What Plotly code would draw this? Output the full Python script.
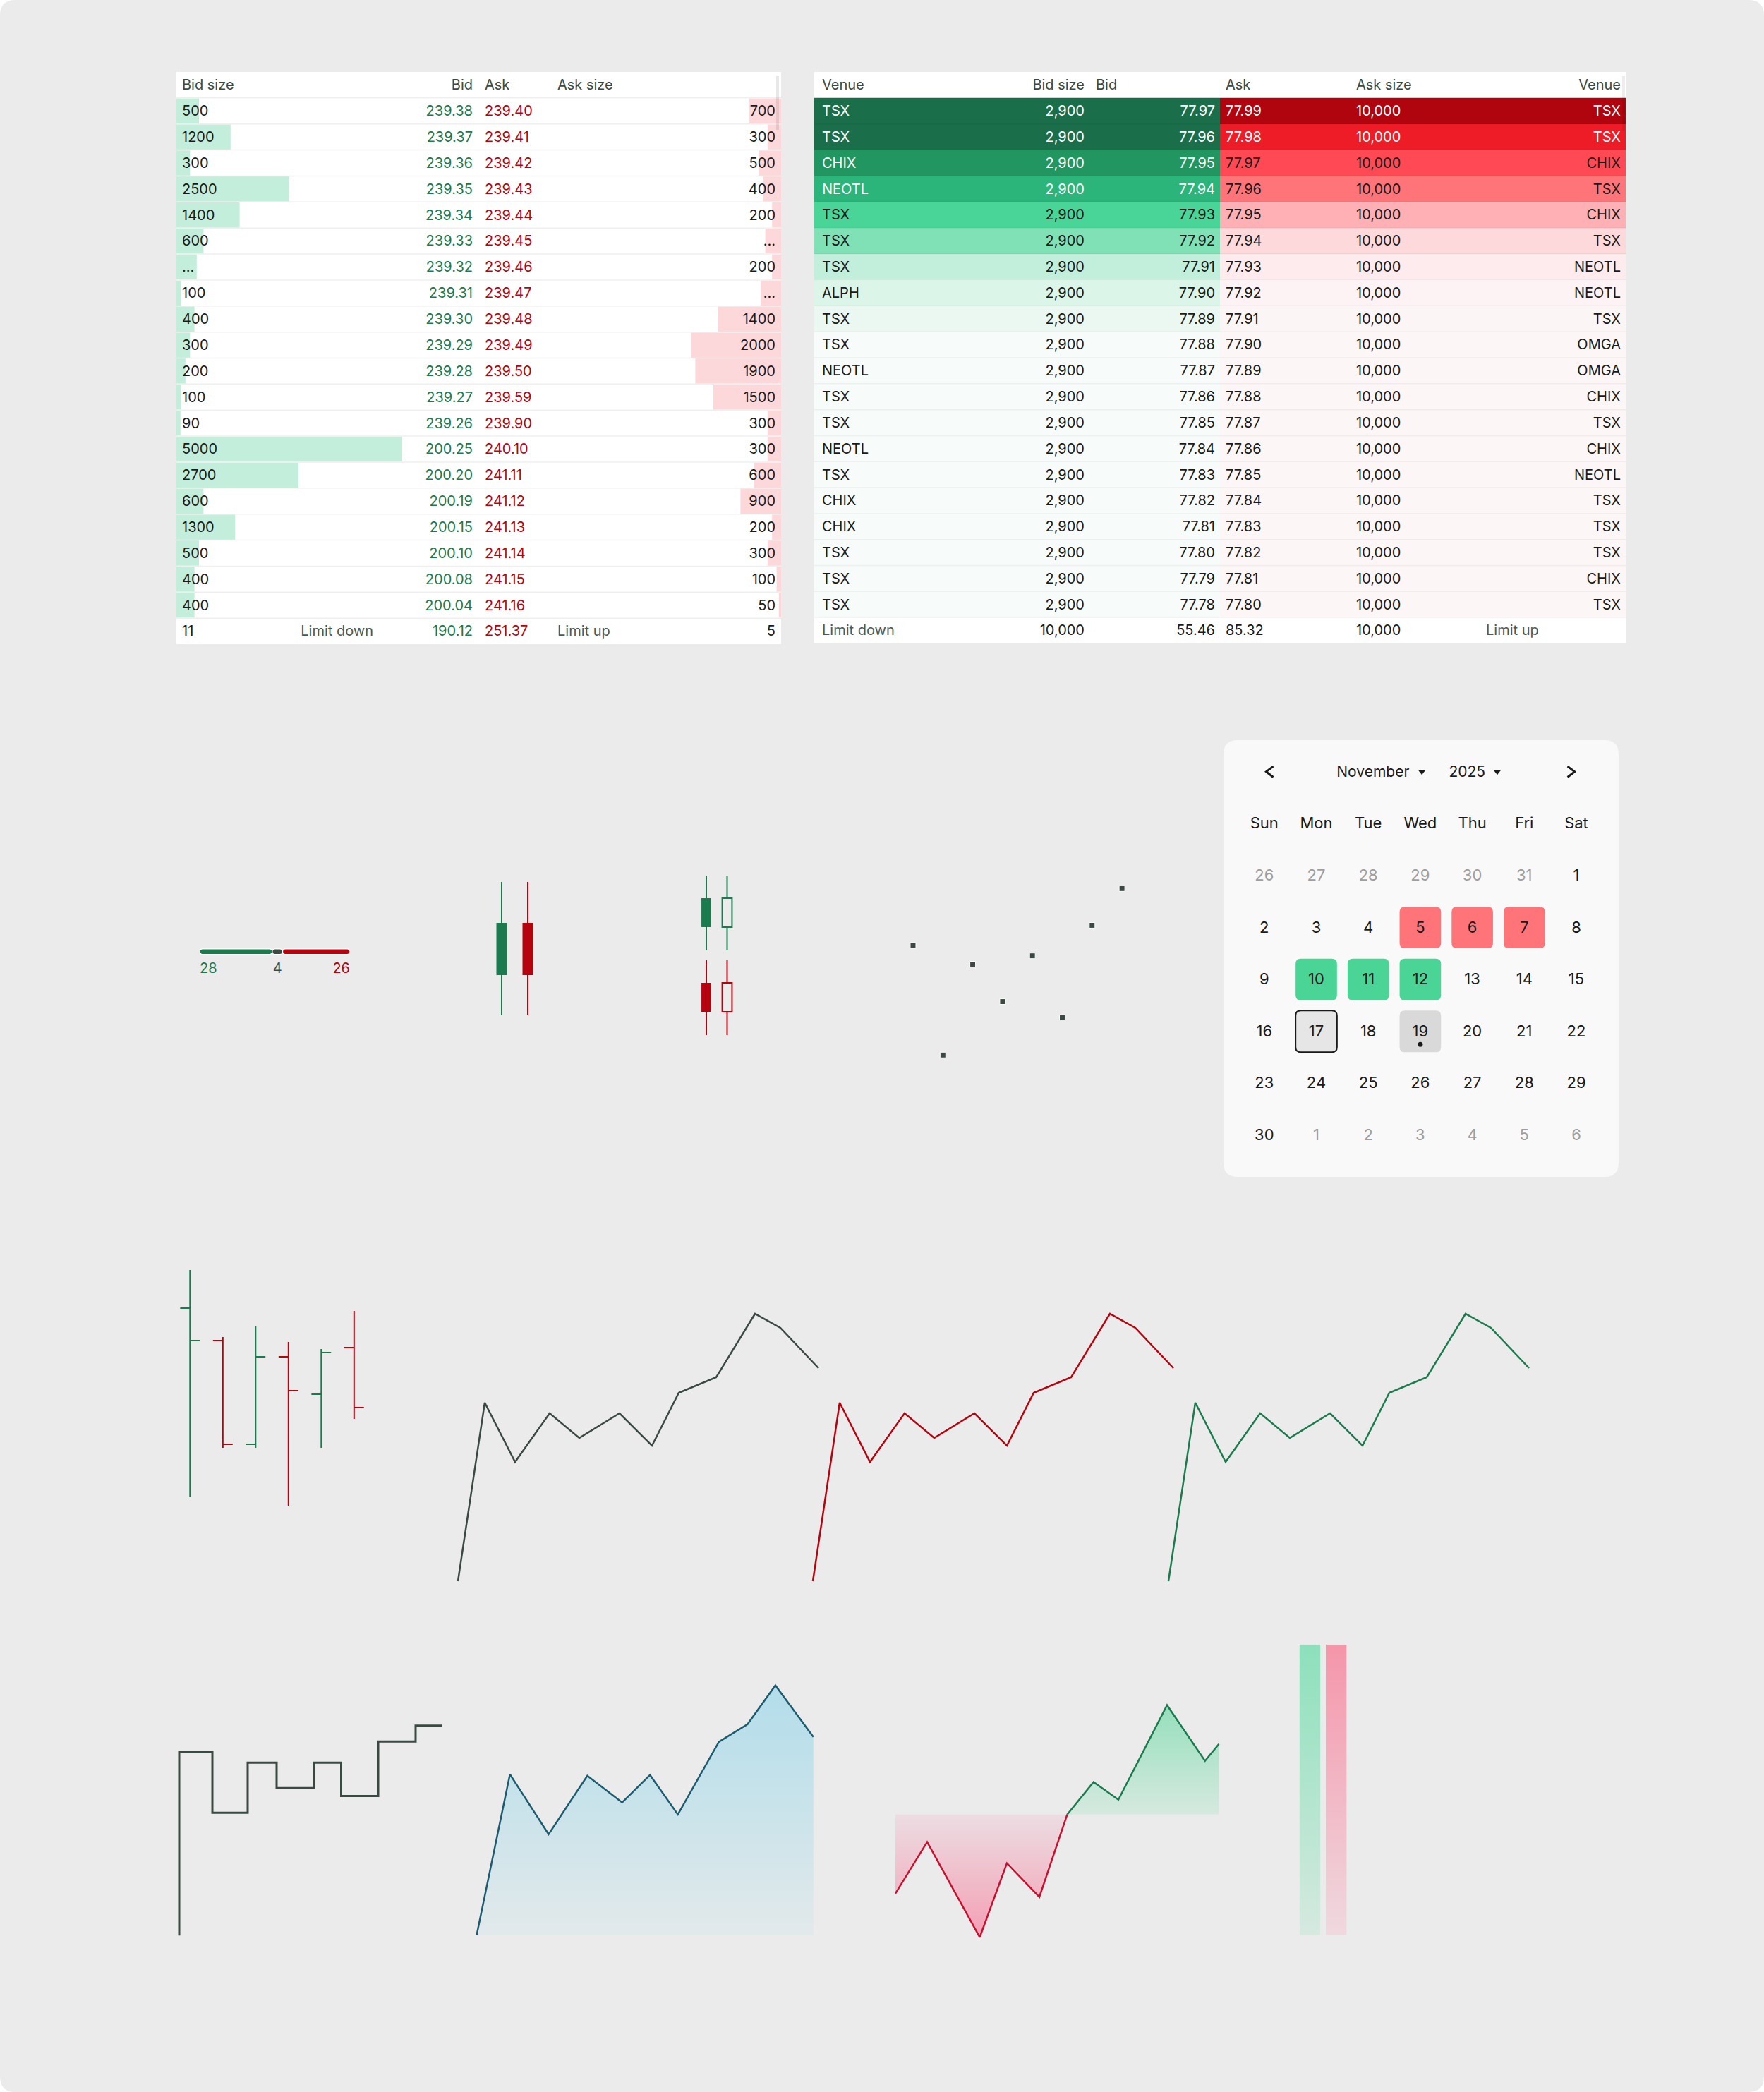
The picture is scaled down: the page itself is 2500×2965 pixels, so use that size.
import datetime as dt
import numpy as np
import plotly.graph_objects as go

W, H = 2500, 2965
FONT = "Inter, 'Noto Sans', sans-serif"
GREEN = "#1b7a4e"
RED = "#b5040f"
INK = "#3a4a42"
TEXT = "#1a1a1a"
MUTED = "#4a5a52"
BG = "#ebebeb"

# ---- order book (left table)
book_bid_size = [500, 1200, 300, 2500, 1400, 600, 450, 100, 400, 300,
                 200, 100, 90, 5000, 2700, 600, 1300, 500, 400, 400]
book_bid_hidden = [6]
book_bid = [239.38, 239.37, 239.36, 239.35, 239.34, 239.33, 239.32, 239.31, 239.30, 239.29,
            239.28, 239.27, 239.26, 200.25, 200.20, 200.19, 200.15, 200.10, 200.08, 200.04]
book_ask = [239.40, 239.41, 239.42, 239.43, 239.44, 239.45, 239.46, 239.47, 239.48, 239.49,
            239.50, 239.59, 239.90, 240.10, 241.11, 241.12, 241.13, 241.14, 241.15, 241.16]
book_ask_size = [700, 300, 500, 400, 200, 350, 200, 450, 1400, 2000,
                 1900, 1500, 300, 300, 600, 900, 200, 300, 100, 50]
book_ask_hidden = [5, 7]
book_limit_down_size = 11
book_limit_down = 190.12
book_limit_up = 251.37
book_limit_up_size = 5

# ---- montage (right table)
mont_bid_venue = ["TSX", "TSX", "CHIX", "NEOTL", "TSX", "TSX", "TSX", "ALPH", "TSX", "TSX",
                  "NEOTL", "TSX", "TSX", "NEOTL", "TSX", "CHIX", "CHIX", "TSX", "TSX", "TSX"]
mont_bid_size = [2900] * 20
mont_bid = [77.97, 77.96, 77.95, 77.94, 77.93, 77.92, 77.91, 77.90, 77.89, 77.88,
            77.87, 77.86, 77.85, 77.84, 77.83, 77.82, 77.81, 77.80, 77.79, 77.78]
mont_ask = [77.99, 77.98, 77.97, 77.96, 77.95, 77.94, 77.93, 77.92, 77.91, 77.90,
            77.89, 77.88, 77.87, 77.86, 77.85, 77.84, 77.83, 77.82, 77.81, 77.80]
mont_ask_size = [10000] * 20
mont_ask_venue = ["TSX", "TSX", "CHIX", "TSX", "CHIX", "TSX", "NEOTL", "NEOTL", "TSX", "OMGA",
                  "OMGA", "CHIX", "TSX", "CHIX", "NEOTL", "TSX", "TSX", "TSX", "CHIX", "TSX"]
mont_limit_down_size = 10000
mont_limit_down = 55.46
mont_limit_up = 85.32
mont_limit_up_size = 10000
bid_shades = ["#1a6e4a", "#1a6e4a", "#219660", "#2bb57a", "#49d597",
              "#80e1b6", "#c1efdb", "#dbf5e9", "#eaf8f1", "#f7fbf9"]
ask_shades = ["#b0040f", "#ed1c27", "#ff4a55", "#ff7479", "#feb0b4",
              "#fdd9dc", "#fdebed", "#fdf3f4", "#fcf5f5", "#fcf6f6"]

# ---- small widgets
ratio_values = [28, 4, 26]
candle_open = [6.8, 14.2]
candle_high = [20.0, 20.0]
candle_low = [1.1, 1.1]
candle_close = [14.2, 6.8]
mini_x = [0, 1, 0, 1]
mini_open = [15.6, 15.6, 7.7, 7.7]
mini_high = [22.9, 22.9, 10.9, 10.9]
mini_low = [12.3, 12.3, 0.3, 0.3]
mini_close = [19.7, 19.7, 3.6, 3.6]
mini_hollow = [False, True, False, True]
dot_values = [15.8, 0.0, 13.1, 7.7, 14.3, 5.4, 18.7, 24.0]

cal_year, cal_month = 2025, 11
cal_red = [5, 6, 7]
cal_green = [10, 11, 12]
cal_today = 17
cal_selected = 19
weekdays = ["Sun", "Mon", "Tue", "Wed", "Thu", "Fri", "Sat"]

ohlc_open = [28.6, 24.0, 9.3, 21.7, 16.4, 23.0]
ohlc_high = [34.0, 24.5, 26.0, 23.8, 22.8, 28.2]
ohlc_low = [1.8, 8.8, 8.8, 0.6, 8.8, 12.9]
ohlc_close = [24.0, 9.3, 21.7, 16.9, 22.3, 14.5]

line_t = [0, 38, 81, 130, 172, 229, 275, 313, 366, 421, 457, 511]
line_values = [0.9, 26.2, 17.8, 24.7, 21.2, 24.7, 20.1, 27.6, 29.8, 38.8, 36.8, 31.1]
step_t = [0, 47, 97, 138, 191, 229.5, 282, 335, 373]
area_t = [0, 47.2, 102, 156.9, 206.2, 245.7, 285.2, 343.4, 383.9, 423.4, 477.2]
area_values = [0.0, 22.8, 14.3, 22.6, 18.8, 22.7, 17.1, 27.4, 29.9, 35.4, 28.1]
base_t = [0, 45, 119.5, 158, 204, 243.5, 280.8, 316, 385, 438.8, 458.5]
base_values = [-11.2, -3.9, -17.4, -6.9, -11.7, 0.0, 4.6, 2.1, 15.5, 7.6, 10.0]
flow_values = [100, 100]


def dx(a, b):
    return [a / W, b / W]


def dy(top, bottom):
    return [1 - bottom / H, 1 - top / H]


layout_axes = {}


def axes(n, xdom, ydom, xr, yr):
    xs = "xaxis" if n == 1 else f"xaxis{n}"
    ys = "yaxis" if n == 1 else f"yaxis{n}"
    layout_axes[xs] = dict(domain=xdom, range=xr, visible=False, fixedrange=True,
                           anchor="y" if n == 1 else f"y{n}")
    layout_axes[ys] = dict(domain=ydom, range=yr, visible=False, fixedrange=True,
                           anchor="x" if n == 1 else f"x{n}")
    return ("x" if n == 1 else f"x{n}"), ("y" if n == 1 else f"y{n}")


fig = go.Figure()


def text_col(xa, ya, xs, ys, texts, colors, pos, size=20):
    fig.add_trace(go.Scatter(
        x=xs, y=ys, mode="text", text=texts, textposition=pos,
        textfont=dict(family=FONT, size=size, color=colors),
        xaxis=xa, yaxis=ya, hoverinfo="skip", showlegend=False, cliponaxis=False))


def rr_path(x0, y0, x1, y1, rx, ry):
    return (f"M {x0 + rx},{y0} L {x1 - rx},{y0} Q {x1},{y0} {x1},{y0 + ry} "
            f"L {x1},{y1 - ry} Q {x1},{y1} {x1 - rx},{y1} L {x0 + rx},{y1} "
            f"Q {x0},{y1} {x0},{y1 - ry} L {x0},{y0 + ry} Q {x0},{y0} {x0 + rx},{y0} Z")


def rr_paper(x0, y0, x1, y1, r):
    return rr_path(x0 / W, 1 - y0 / H, x1 / W, 1 - y1 / H, r / W, -r / H)


shapes = [dict(type="path", xref="paper", yref="paper", layer="below",
               path=rr_paper(0, 0, W, H, 22), fillcolor=BG, line_width=0)]

# text sits a touch low in the reference rows
TY = 0.05

# =============== left table: order book ===============
T1 = (250, 102, 1107, 913)
t1w = T1[2] - T1[0]
scale = 0.064
rows = np.arange(1, 21)
bx, by = axes(1, dx(T1[0], T1[2]), dy(T1[1], T1[3]), [0, t1w / scale], [21.5, -0.5])
layout_axes["xaxis2"] = dict(overlaying="x", anchor="y", range=[t1w / scale, 0], visible=False, fixedrange=True)
layout_axes["xaxis3"] = dict(overlaying="x", anchor="y", range=[0, t1w], visible=False, fixedrange=True)
shapes.append(dict(type="rect", xref="paper", yref="paper", layer="below",
                   x0=T1[0] / W, x1=T1[2] / W, y0=1 - T1[3] / H, y1=1 - T1[1] / H,
                   fillcolor="white", line_width=0))
fig.add_trace(go.Bar(x=book_bid_size, y=rows, orientation="h", width=0.97,
                     marker=dict(color="#c2eedb", line_width=0), xaxis="x", yaxis="y",
                     hoverinfo="skip", showlegend=False))
fig.add_trace(go.Bar(x=book_ask_size, y=rows, orientation="h", width=0.97,
                     marker=dict(color="#fdd8db", line_width=0), xaxis="x2", yaxis="y",
                     hoverinfo="skip", showlegend=False))

ally = [r + TY for r in range(22)]
body_y = [r + TY for r in range(1, 22)]
bid_lbl = ["…" if i in book_bid_hidden else str(v) for i, v in enumerate(book_bid_size)]
ask_lbl = ["…" if i in book_ask_hidden else str(v) for i, v in enumerate(book_ask_size)]
text_col("x3", "y", [8] * 22, ally, ["Bid size"] + bid_lbl + [str(book_limit_down_size)],
         [INK] + [TEXT] * 21, "middle right")
text_col("x3", "y", [279], [21 + TY], ["Limit down"], [MUTED], "middle left")
text_col("x3", "y", [420] * 22, ally, ["Bid"] + [f"{v:.2f}" for v in book_bid] + [f"{book_limit_down:.2f}"],
         [INK] + [GREEN] * 21, "middle left")
text_col("x3", "y", [437] * 22, ally, ["Ask"] + [f"{v:.2f}" for v in book_ask] + [f"{book_limit_up:.2f}"],
         [INK] + [RED] * 21, "middle right")
text_col("x3", "y", [540, 540], [TY, 21 + TY], ["Ask size", "Limit up"], [INK, MUTED], "middle right")
text_col("x3", "y", [849] * 21, body_y, ask_lbl + [str(book_limit_up_size)],
         [TEXT] * 21, "middle left")
for k in range(21):
    shapes.append(dict(type="line", xref="x3", yref="y", x0=0, x1=t1w, y0=k + 0.5, y1=k + 0.5,
                       line=dict(color="#efefef", width=1.5), layer="above"))
shapes.append(dict(type="line", xref="paper", yref="paper", x0=1102 / W, x1=1102 / W,
                   y0=1 - 184 / H, y1=1 - 108 / H, line=dict(color="rgba(0,0,0,0.09)", width=4)))

# =============== right table: montage ===============
T2 = (1154, 102, 2304, 912)
t2w = T2[2] - T2[0]
mx, my = axes(4, dx(T2[0], T2[2]), dy(T2[1], T2[3]), [0, t2w], [21.5, -0.5])
shapes.append(dict(type="rect", xref="paper", yref="paper", layer="below",
                   x0=T2[0] / W, x1=T2[2] / W, y0=1 - T2[3] / H, y1=1 - T2[1] / H,
                   fillcolor="white", line_width=0))
level = np.minimum(np.arange(20), len(bid_shades) - 1).reshape(-1, 1)
edges = np.arange(0.5, 21, 1.0)
half = t2w / 2
for xs_, shades in (([0, half], bid_shades), ([half, t2w], ask_shades)):
    fig.add_trace(go.Heatmap(z=level, x=xs_, y=edges, zmin=0, zmax=len(shades) - 1,
                             colorscale=[[k / (len(shades) - 1), c] for k, c in enumerate(shades)],
                             showscale=False, hoverinfo="skip", xaxis=mx, yaxis=my))
bid_txt = ["white" if i < 4 else TEXT for i in range(20)]
ask_txt = ["white" if i < 2 else TEXT for i in range(20)]
text_col(mx, my, [11] * 22, ally, ["Venue"] + mont_bid_venue + ["Limit down"],
         [INK] + bid_txt + [MUTED], "middle right")
text_col(mx, my, [383] * 22, ally, ["Bid size"] + [f"{v:,}" for v in mont_bid_size] + [f"{mont_limit_down_size:,}"],
         [INK] + bid_txt + [TEXT], "middle left")
text_col(mx, my, [399], [TY], ["Bid"], [INK], "middle right")
text_col(mx, my, [568] * 21, body_y, [f"{v:.2f}" for v in mont_bid] + [f"{mont_limit_down:.2f}"],
         bid_txt + [TEXT], "middle left")
text_col(mx, my, [583] * 22, ally, ["Ask"] + [f"{v:.2f}" for v in mont_ask] + [f"{mont_limit_up:.2f}"],
         [INK] + ask_txt + [TEXT], "middle right")
text_col(mx, my, [768] * 22, ally, ["Ask size"] + [f"{v:,}" for v in mont_ask_size] + [f"{mont_limit_up_size:,}"],
         [INK] + ask_txt + [TEXT], "middle right")
text_col(mx, my, [t2w - 7] * 21, ally[:21], ["Venue"] + mont_ask_venue,
         [INK] + ask_txt, "middle left")
text_col(mx, my, [952], [21 + TY], ["Limit up"], [MUTED], "middle right")
for k in range(21):
    shapes.append(dict(type="line", xref=mx, yref=my, x0=0, x1=t2w, y0=k + 0.5, y1=k + 0.5,
                       line=dict(color="rgba(0,0,0,0.045)", width=1.5), layer="above"))
shapes.append(dict(type="line", xref="paper", yref="paper", x0=2301 / W, x1=2301 / W,
                   y0=1 - 185 / H, y1=1 - 108 / H, line=dict(color="rgba(0,0,0,0.07)", width=4)))

# =============== ratio pill ===============
px_, py_ = axes(5, dx(283, 496), dy(1335, 1390), [0, sum(ratio_values)], [-1.5, 0.5])
ends = np.cumsum(ratio_values)
starts = ends - np.array(ratio_values)
pill_colors = [GREEN, INK, RED]
pill_specs = [(ends[0], -ratio_values[0]), (starts[1], ratio_values[1]), (starts[2], ratio_values[2])]
for (b, v), c in zip(pill_specs, pill_colors):
    fig.add_trace(go.Bar(x=[v], base=[b], y=[0], orientation="h", width=0.28,
                         marker=dict(color=c, cornerradius=4, line=dict(color="white", width=1.2)),
                         xaxis=px_, yaxis=py_, hoverinfo="skip", showlegend=False))
text_col(px_, py_, [starts[0], (starts[1] + ends[1]) / 2, ends[2]], [-0.9] * 3,
         [str(v) for v in ratio_values], pill_colors, ["middle right", "middle center", "middle left"])


# =============== candles ===============
def candles(xs, o, h, l, c, hollow, xa, ya, width):
    cols = [GREEN if cc >= oo else RED for oo, cc in zip(o, c)]
    for col in (GREEN, RED):
        wx, wy = [], []
        for i in range(len(xs)):
            if cols[i] != col:
                continue
            top, bot = max(o[i], c[i]), min(o[i], c[i])
            wx += [xs[i], xs[i], None, xs[i], xs[i], None]
            wy += [h[i], top, None, bot, l[i], None]
        if wx:
            fig.add_trace(go.Scatter(x=wx, y=wy, mode="lines", line=dict(color=col, width=2),
                                     xaxis=xa, yaxis=ya, hoverinfo="skip", showlegend=False))
    fig.add_trace(go.Bar(
        x=xs, y=[abs(cc - oo) for oo, cc in zip(o, c)], base=[min(oo, cc) for oo, cc in zip(o, c)],
        width=width,
        marker=dict(color=[BG if hh else col for hh, col in zip(hollow, cols)],
                    line=dict(color=cols, width=[2 if hh else 0 for hh in hollow])),
        xaxis=xa, yaxis=ya, hoverinfo="skip", showlegend=False))


cx, cy = axes(6, dx(690.65, 768.35), dy(1240, 1450), [-0.55, 1.55], [0, 21])
candles([0, 1], candle_open, candle_high, candle_low, candle_close, [False, False], cx, cy, 0.405)
sx, sy = axes(7, dx(983.3, 1048.2), dy(1236, 1470), [-0.6, 1.6], [0, 23.4])
candles(mini_x, mini_open, mini_high, mini_low, mini_close, mini_hollow, sx, sy, 0.47)

# =============== dots ===============
ox, oy = axes(8, dx(1272.85, 1611.25), dy(1249.5, 1505.1), [-0.5, 7.5], [-1, 25])
fig.add_trace(go.Scatter(x=list(range(len(dot_values))), y=dot_values, mode="markers",
                         marker=dict(symbol="square", size=8, color=INK, line=dict(color="white", width=1)),
                         xaxis=ox, yaxis=oy, hoverinfo="skip", showlegend=False))

# =============== calendar ===============
shapes.append(dict(type="path", xref="paper", yref="paper", layer="below",
                   path=rr_paper(1734, 1049, 2294, 1668, 20), fillcolor="#f9f9f9", line_width=0))
kx, ky = axes(9, dx(1754.95, 2270.85), dy(1057, 1645.8), [-0.5, 6.5], [5.5, -2.5])
first = dt.date(cal_year, cal_month, 1)
start = first - dt.timedelta(days=(first.weekday() + 1) % 7)
days = [start + dt.timedelta(days=i) for i in range(42)]


def cell(dnum):
    i = days.index(dt.date(cal_year, cal_month, dnum))
    return i % 7, i // 7


def box(dnum, fill, line=None):
    c, r = cell(dnum)
    shapes.append(dict(type="path", xref=kx, yref=ky, layer="below",
                       path=rr_path(c - 0.398, r - 0.4, c + 0.398, r + 0.4, 0.1, 0.1),
                       fillcolor=fill, line=line or dict(width=0)))


for d in cal_red:
    box(d, "#ff7479")
for d in cal_green:
    box(d, "#4ad597")
box(cal_today, "#e6e6e6", dict(color=TEXT, width=2))
box(cal_selected, "#d9d9d9")

CY = 0.02
text_col(kx, ky, list(range(7)), [-1 + CY] * 7, weekdays, [TEXT] * 7, "middle center", 22)
text_col(kx, ky, [i % 7 for i in range(42)], [i // 7 + CY for i in range(42)],
         [str(d.day) for d in days],
         [TEXT if d.month == cal_month else "#9e9e9e" for d in days], "middle center", 22)
text_col(kx, ky, [2.09, 3.9], [-2 + CY, -2 + CY], [first.strftime("%B"), str(cal_year)], [TEXT, TEXT],
         "middle center", 21)
fig.add_trace(go.Scatter(x=[3.03, 4.48], y=[-2, -2], mode="markers",
                         marker=dict(symbol="triangle-down", size=9, color=TEXT),
                         xaxis=kx, yaxis=ky, hoverinfo="skip", showlegend=False))
fig.add_trace(go.Scatter(x=[0.172, 0.036, 0.172, None, 5.832, 5.968, 5.832],
                         y=[-2.105, -2, -1.895, None, -2.105, -2, -1.895], mode="lines",
                         line=dict(color=TEXT, width=3), xaxis=kx, yaxis=ky,
                         hoverinfo="skip", showlegend=False))
sc, sr = cell(cal_selected)
fig.add_trace(go.Scatter(x=[sc], y=[sr + 0.25], mode="markers",
                         marker=dict(symbol="circle", size=7, color=TEXT),
                         xaxis=kx, yaxis=ky, hoverinfo="skip", showlegend=False))

# =============== OHLC bars ===============
hx, hy = axes(10, dx(241.4, 529.7), dy(1790, 2140), [-0.6, 5.6], [0, 35])
layout_axes["xaxis10"]["rangeslider"] = dict(visible=False)
up = [i == 0 or ohlc_close[i] >= ohlc_close[i - 1] for i in range(len(ohlc_close))]
for flag, col in ((True, GREEN), (False, RED)):
    idx = [i for i in range(len(up)) if up[i] == flag]
    fig.add_trace(go.Ohlc(x=idx, open=[ohlc_open[i] for i in idx], high=[ohlc_high[i] for i in idx],
                          low=[ohlc_low[i] for i in idx], close=[ohlc_close[i] for i in idx],
                          increasing_line_color=col, decreasing_line_color=col, line_width=2,
                          tickwidth=0.15, xaxis=hx, yaxis=hy, hoverinfo="skip", showlegend=False))

# =============== line charts ===============
for n, (left, col) in zip((11, 12, 13), ((649, INK), (1152, RED), (1656, GREEN))):
    lx, ly = axes(n, dx(left - 3, left + 514), dy(1830, 2250), [-3, 514], [0, 42])
    fig.add_trace(go.Scatter(x=line_t, y=line_values, mode="lines", line=dict(color=col, width=2.5),
                             xaxis=lx, yaxis=ly, hoverinfo="skip", showlegend=False))

# =============== step line ===============
tx, ty = axes(14, dx(251, 630), dy(2430, 2750), [-3, 376], [0.25, 31.32])
fig.add_trace(go.Scatter(x=step_t, y=line_values[:len(step_t)], mode="lines",
                         line=dict(color=INK, width=3, shape="vh"),
                         xaxis=tx, yaxis=ty, hoverinfo="skip", showlegend=False))

# =============== gradient area ===============
ax_, ay_ = axes(15, dx(672.5, 1155.7), dy(2342.7, 2745.7), [-3, 480.2], [-0.3, 40])
fig.add_trace(go.Scatter(x=area_t, y=area_values, mode="lines", fill="tozeroy",
                         fillgradient=dict(type="vertical", colorscale=[[0, "#e2e9eb"], [1, "#b2ddea"]],
                                           start=0, stop=max(area_values)),
                         line=dict(color="#1d5b6e", width=2.5),
                         xaxis=ax_, yaxis=ay_, hoverinfo="skip", showlegend=False))

# =============== baseline area ===============
gx, gy = axes(16, dx(1266, 1730.5), dy(2401.7, 2751.7), [-3, 461.5], [-18, 17])
cross = next(i for i, v in enumerate(base_values) if v >= 0)
fig.add_trace(go.Scatter(x=base_t[:cross + 1], y=base_values[:cross + 1], mode="lines", fill="tozeroy",
                         fillgradient=dict(type="vertical", colorscale=[[0, "#f49fb4"], [1, "#ecdde2"]],
                                           start=min(base_values), stop=0),
                         line=dict(color="#c8102e", width=2.5),
                         xaxis=gx, yaxis=gy, hoverinfo="skip", showlegend=False))
fig.add_trace(go.Scatter(x=base_t[cross:], y=base_values[cross:], mode="lines", fill="tozeroy",
                         fillgradient=dict(type="vertical", colorscale=[[0, "#d6e9df"], [1, "#95dfbc"]],
                                           start=0, stop=max(base_values)),
                         line=dict(color=GREEN, width=2.5),
                         xaxis=gx, yaxis=gy, hoverinfo="skip", showlegend=False))

# =============== gradient volume bars ===============
fx, fy = axes(17, dx(1837.9, 1912.3), dy(2330.7, 2742.7), [-0.5, 1.5], [0, 100])
for i, (v, cs) in enumerate(zip(flow_values, ([[0, "#d6e9e0"], [1, "#8ce0bb"]],
                                              [[0, "#efd9df"], [1, "#f595aa"]]))):
    fig.add_trace(go.Scatter(x=[i - 0.395, i + 0.395], y=[v, v], mode="none", fill="tozeroy",
                             fillgradient=dict(type="vertical", colorscale=cs, start=0, stop=v),
                             xaxis=fx, yaxis=fy, hoverinfo="skip", showlegend=False))

fig.update_layout(
    width=W, height=H, margin=dict(l=0, r=0, t=0, b=0),
    paper_bgcolor="white", plot_bgcolor="rgba(0,0,0,0)",
    barmode="overlay", showlegend=False, hovermode=False,
    font=dict(family=FONT, color=TEXT),
    shapes=shapes, **layout_axes,
)

fig.write_html("out.html", config={"displayModeBar": False, "staticPlot": True},
               post_script="document.body.style.margin='0';")
